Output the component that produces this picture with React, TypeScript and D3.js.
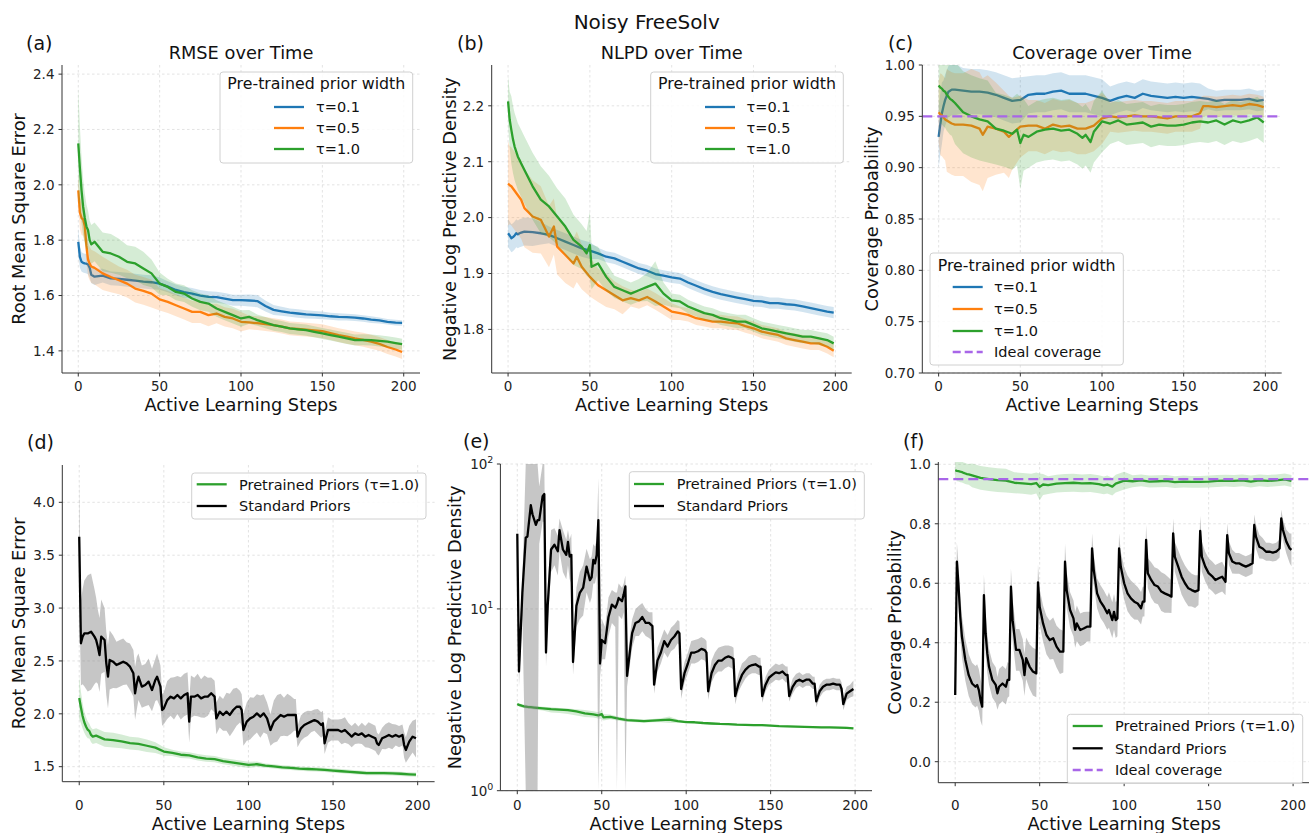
import React from "react";
import * as d3 from "d3";

// [step, mean, spread]
const RMSE_T01 = [[0,1.794,0.05],[1,1.74,0.04],[2,1.722,0.035],[3,1.718,0.035],[4,1.716,0.035],[5,1.715,0.035],[6,1.712,0.035],[7,1.70,0.035],[8,1.675,0.03],[10,1.668,0.03],[15,1.672,0.025],[20,1.662,0.025],[25,1.66,0.025],[30,1.657,0.025],[35,1.654,0.025],[40,1.65,0.025],[45,1.648,0.025],[50,1.643,0.022],[55,1.632,0.02],[60,1.62,0.02],[65,1.612,0.02],[70,1.607,0.02],[75,1.60,0.02],[80,1.595,0.02],[85,1.594,0.02],[90,1.589,0.02],[95,1.583,0.02],[100,1.583,0.02],[105,1.582,0.022],[110,1.58,0.022],[115,1.562,0.02],[120,1.548,0.018],[125,1.543,0.016],[130,1.538,0.015],[135,1.535,0.015],[140,1.532,0.015],[145,1.53,0.014],[150,1.528,0.014],[155,1.525,0.013],[160,1.523,0.013],[165,1.522,0.012],[170,1.52,0.012],[175,1.517,0.012],[180,1.513,0.012],[185,1.51,0.011],[190,1.505,0.01],[195,1.502,0.01],[199,1.501,0.01]];
const RMSE_T05 = [[0,1.98,0.06],[1,1.90,0.06],[2,1.88,0.06],[3,1.875,0.06],[4,1.85,0.06],[5,1.78,0.06],[6,1.73,0.06],[7,1.715,0.06],[8,1.705,0.06],[10,1.70,0.06],[15,1.68,0.06],[20,1.667,0.055],[25,1.655,0.05],[30,1.643,0.05],[35,1.625,0.05],[40,1.617,0.05],[45,1.607,0.05],[50,1.586,0.04],[55,1.577,0.04],[60,1.565,0.04],[65,1.553,0.04],[70,1.541,0.04],[75,1.541,0.04],[80,1.529,0.04],[85,1.535,0.035],[90,1.523,0.035],[95,1.517,0.035],[100,1.505,0.035],[105,1.503,0.025],[110,1.5,0.025],[115,1.497,0.025],[120,1.493,0.025],[125,1.488,0.025],[130,1.481,0.025],[135,1.479,0.025],[140,1.477,0.025],[145,1.474,0.025],[150,1.471,0.025],[155,1.464,0.025],[160,1.457,0.025],[165,1.451,0.025],[170,1.445,0.025],[175,1.44,0.025],[180,1.433,0.025],[185,1.425,0.025],[190,1.414,0.025],[195,1.405,0.025],[199,1.396,0.025]];
const RMSE_T10 = [[0,2.15,0.2],[1,2.06,0.15],[2,1.98,0.12],[3,1.92,0.1],[4,1.88,0.09],[5,1.85,0.08],[6,1.836,0.07],[7,1.80,0.07],[8,1.785,0.07],[10,1.794,0.07],[15,1.758,0.07],[20,1.752,0.07],[25,1.74,0.065],[30,1.722,0.06],[35,1.716,0.06],[40,1.698,0.06],[45,1.68,0.05],[50,1.643,0.04],[55,1.631,0.03],[60,1.613,0.03],[65,1.607,0.03],[70,1.589,0.03],[75,1.577,0.03],[80,1.571,0.03],[85,1.553,0.03],[90,1.541,0.03],[95,1.529,0.03],[100,1.517,0.03],[105,1.523,0.025],[110,1.511,0.02],[115,1.502,0.02],[120,1.493,0.02],[125,1.488,0.02],[130,1.481,0.02],[135,1.478,0.02],[140,1.475,0.02],[145,1.469,0.02],[150,1.463,0.02],[155,1.457,0.02],[160,1.451,0.02],[165,1.445,0.02],[170,1.439,0.02],[175,1.44,0.02],[180,1.439,0.02],[185,1.436,0.02],[190,1.433,0.02],[195,1.428,0.02],[199,1.424,0.02]];

const NLPD_T01 = [[0,1.972,0.025],[1,1.968,0.025],[2,1.963,0.025],[3,1.965,0.025],[4,1.968,0.025],[5,1.972,0.025],[6,1.970,0.025],[7,1.972,0.025],[8,1.973,0.025],[10,1.975,0.025],[15,1.974,0.025],[20,1.972,0.02],[25,1.969,0.015],[30,1.963,0.015],[35,1.957,0.015],[40,1.951,0.015],[45,1.945,0.015],[50,1.941,0.015],[55,1.936,0.01],[60,1.93,0.01],[65,1.927,0.01],[70,1.921,0.01],[75,1.915,0.01],[80,1.909,0.01],[85,1.905,0.01],[90,1.899,0.01],[95,1.896,0.01],[100,1.893,0.01],[105,1.891,0.01],[110,1.884,0.01],[115,1.878,0.01],[120,1.872,0.01],[125,1.867,0.01],[130,1.863,0.01],[135,1.86,0.01],[140,1.857,0.01],[145,1.854,0.01],[150,1.851,0.01],[155,1.85,0.01],[160,1.847,0.01],[165,1.847,0.01],[170,1.845,0.01],[175,1.844,0.01],[180,1.841,0.01],[185,1.838,0.01],[190,1.835,0.01],[195,1.832,0.01],[199,1.83,0.01]];
const NLPD_T05 = [[0,2.061,0.075],[1,2.058,0.07],[2,2.056,0.07],[3,2.052,0.07],[4,2.048,0.07],[5,2.044,0.07],[6,2.04,0.07],[7,2.036,0.07],[8,2.032,0.07],[10,2.017,0.07],[15,2.002,0.065],[20,1.996,0.06],[25,1.966,0.055],[28,1.984,0.05],[30,1.948,0.05],[35,1.933,0.05],[40,1.918,0.045],[42,1.93,0.045],[45,1.912,0.04],[50,1.894,0.035],[55,1.879,0.03],[60,1.87,0.03],[65,1.861,0.025],[70,1.852,0.025],[75,1.856,0.015],[80,1.852,0.015],[85,1.858,0.015],[90,1.85,0.015],[95,1.841,0.015],[100,1.832,0.015],[105,1.829,0.012],[110,1.826,0.012],[115,1.82,0.012],[120,1.817,0.012],[125,1.814,0.012],[130,1.814,0.012],[135,1.812,0.012],[140,1.811,0.012],[145,1.806,0.012],[150,1.802,0.012],[155,1.796,0.012],[160,1.793,0.012],[165,1.79,0.012],[170,1.784,0.012],[175,1.781,0.012],[180,1.778,0.012],[185,1.775,0.012],[190,1.775,0.012],[195,1.769,0.012],[199,1.762,0.012]];
const NLPD_T10 = [[0,2.208,0.045],[1,2.175,0.05],[2,2.157,0.06],[3,2.14,0.06],[4,2.127,0.06],[5,2.118,0.06],[6,2.109,0.06],[7,2.103,0.06],[8,2.097,0.06],[10,2.085,0.06],[15,2.056,0.06],[20,2.032,0.06],[25,2.02,0.055],[30,2.002,0.05],[35,1.984,0.05],[40,1.96,0.045],[45,1.948,0.04],[48,1.936,0.04],[50,1.951,0.06],[51,1.912,0.04],[55,1.918,0.03],[60,1.894,0.025],[65,1.876,0.02],[70,1.87,0.02],[75,1.864,0.02],[80,1.87,0.02],[85,1.876,0.025],[90,1.882,0.04],[95,1.864,0.02],[100,1.852,0.012],[105,1.85,0.012],[110,1.841,0.012],[115,1.835,0.012],[120,1.829,0.012],[125,1.826,0.012],[130,1.82,0.012],[135,1.817,0.012],[140,1.814,0.012],[145,1.814,0.012],[150,1.808,0.012],[155,1.802,0.012],[160,1.799,0.012],[165,1.796,0.012],[170,1.793,0.012],[175,1.79,0.012],[180,1.787,0.012],[185,1.787,0.012],[190,1.784,0.012],[195,1.781,0.012],[199,1.775,0.012]];

const COV_T01 = [[0,0.930,0.03],[1,0.942,0.03],[2,0.953,0.03],[3,0.96,0.025],[4,0.966,0.025],[5,0.97,0.025],[6,0.974,0.025],[7,0.975,0.025],[8,0.976,0.025],[10,0.976,0.025],[15,0.975,0.022],[20,0.974,0.022],[25,0.974,0.022],[30,0.973,0.022],[35,0.971,0.022],[40,0.968,0.022],[45,0.965,0.022],[50,0.966,0.022],[55,0.971,0.018],[60,0.972,0.018],[65,0.972,0.018],[70,0.974,0.018],[75,0.975,0.018],[80,0.972,0.018],[85,0.972,0.018],[90,0.972,0.018],[95,0.970,0.018],[100,0.968,0.018],[105,0.965,0.014],[110,0.968,0.014],[115,0.97,0.014],[120,0.968,0.014],[125,0.972,0.014],[130,0.97,0.014],[135,0.969,0.014],[140,0.968,0.014],[145,0.969,0.014],[150,0.968,0.014],[155,0.969,0.014],[160,0.968,0.014],[165,0.967,0.01],[170,0.965,0.01],[175,0.966,0.01],[180,0.966,0.01],[185,0.966,0.01],[190,0.967,0.01],[195,0.965,0.01],[199,0.966,0.01]];
const COV_T05 = [[0,0.954,0.03],[1,0.952,0.04],[2,0.951,0.04],[3,0.949,0.04],[4,0.947,0.04],[5,0.946,0.05],[6,0.945,0.05],[7,0.944,0.05],[8,0.943,0.05],[10,0.942,0.05],[15,0.942,0.05],[20,0.941,0.055],[25,0.938,0.055],[27,0.932,0.055],[30,0.940,0.05],[35,0.938,0.045],[40,0.935,0.04],[43,0.930,0.04],[45,0.933,0.035],[50,0.94,0.03],[55,0.941,0.025],[60,0.941,0.025],[65,0.938,0.025],[70,0.942,0.025],[75,0.94,0.025],[80,0.941,0.025],[85,0.938,0.025],[90,0.938,0.025],[95,0.941,0.025],[100,0.948,0.025],[105,0.95,0.015],[110,0.949,0.015],[115,0.95,0.015],[120,0.951,0.015],[125,0.95,0.015],[130,0.95,0.015],[135,0.949,0.015],[140,0.948,0.015],[145,0.95,0.015],[150,0.95,0.015],[155,0.95,0.015],[160,0.953,0.015],[162,0.96,0.01],[165,0.96,0.01],[170,0.959,0.01],[175,0.96,0.01],[180,0.961,0.01],[185,0.96,0.01],[190,0.962,0.01],[195,0.961,0.01],[199,0.959,0.01]];
const COV_T10 = [[0,0.98,0.025],[1,0.978,0.035],[2,0.977,0.035],[3,0.975,0.035],[4,0.974,0.035],[5,0.971,0.035],[6,0.969,0.035],[7,0.967,0.035],[8,0.966,0.035],[10,0.963,0.04],[15,0.954,0.04],[20,0.95,0.04],[25,0.947,0.04],[30,0.945,0.04],[35,0.938,0.035],[40,0.936,0.035],[45,0.933,0.035],[48,0.937,0.035],[50,0.924,0.045],[52,0.932,0.035],[55,0.930,0.03],[60,0.935,0.03],[65,0.937,0.03],[70,0.938,0.03],[75,0.936,0.03],[80,0.937,0.03],[85,0.933,0.03],[88,0.929,0.03],[90,0.932,0.03],[93,0.925,0.03],[95,0.935,0.03],[100,0.945,0.03],[105,0.943,0.02],[110,0.946,0.02],[115,0.942,0.02],[120,0.943,0.02],[125,0.944,0.02],[130,0.94,0.02],[135,0.942,0.02],[140,0.941,0.02],[145,0.941,0.02],[150,0.942,0.02],[155,0.944,0.02],[160,0.945,0.02],[165,0.944,0.02],[170,0.946,0.02],[175,0.942,0.02],[180,0.946,0.02],[185,0.944,0.02],[190,0.946,0.02],[195,0.949,0.02],[199,0.944,0.02]];

// standard priors, [step, mean, spread]
const STD_RMSE = [[0,3.675,0.55],[1,2.667,0.4],[2,2.73,0.45],[3,2.76,0.5],[5,2.76,0.55],[7,2.777,0.55],[9,2.73,0.45],[10,2.698,0.4],[11,2.635,0.35],[12,2.556,0.35],[13,2.73,0.35],[15,2.698,0.3],[16,2.477,0.3],[17,2.351,0.3],[18,2.509,0.28],[20,2.493,0.25],[22,2.462,0.22],[24,2.477,0.22],[26,2.493,0.22],[28,2.477,0.2],[30,2.446,0.22],[32,2.383,0.22],[33,2.194,0.25],[34,2.288,0.25],[35,2.351,0.22],[37,2.257,0.2],[39,2.272,0.2],[41,2.304,0.22],[43,2.225,0.2],[45,2.32,0.2],[46,2.351,0.22],[48,2.257,0.2],[49,2.036,0.15],[50,2.052,0.15],[52,2.13,0.18],[54,2.162,0.18],[56,2.146,0.2],[58,2.178,0.18],[60,2.146,0.2],[62,2.178,0.2],[64,2.194,0.2],[65,1.926,0.2],[66,2.162,0.2],[68,2.162,0.18],[70,2.178,0.2],[72,2.146,0.18],[74,2.162,0.2],[76,2.162,0.18],[78,2.194,0.15],[80,2.162,0.15],[81,1.957,0.15],[83,2.02,0.15],[85,1.989,0.15],[87,2.02,0.18],[89,1.989,0.2],[91,2.036,0.2],[93,2.067,0.18],[95,2.067,0.15],[96,2.036,0.15],[97,1.847,0.15],[99,1.926,0.18],[101,1.957,0.2],[103,1.973,0.18],[105,2.004,0.18],[107,1.973,0.2],[109,2.004,0.18],[111,1.957,0.15],[113,1.847,0.15],[115,1.926,0.2],[117,1.957,0.22],[119,1.989,0.2],[121,1.973,0.18],[123,1.989,0.2],[125,1.989,0.18],[127,1.989,0.15],[128,1.989,0.15],[129,1.784,0.1],[131,1.863,0.12],[133,1.894,0.12],[135,1.91,0.12],[137,1.926,0.1],[139,1.941,0.1],[141,1.926,0.12],[143,1.894,0.12],[144,1.91,0.12],[145,1.721,0.1],[147,1.847,0.12],[149,1.847,0.1],[151,1.847,0.1],[153,1.847,0.1],[155,1.831,0.12],[157,1.847,0.12],[159,1.815,0.1],[160,1.8,0.1],[161,1.784,0.1],[163,1.815,0.1],[165,1.8,0.08],[167,1.815,0.1],[169,1.784,0.1],[171,1.8,0.12],[173,1.784,0.12],[175,1.768,0.12],[176,1.721,0.1],[177,1.705,0.1],[179,1.768,0.1],[181,1.784,0.12],[183,1.8,0.12],[185,1.784,0.12],[187,1.8,0.1],[189,1.784,0.1],[191,1.8,0.1],[192,1.705,0.12],[193,1.658,0.12],[195,1.737,0.15],[197,1.784,0.15],[199,1.768,0.18]];
// [step, mean, low, high]
const STD_NLPD = [[0,33,25,48],[1,3.7,2.9,5],[3,12.9,9,16],[5,31,1,100],[6,31.6,1,100],[8,52,1,100],[9,45,1,100],[11,38,1,100],[12,41,1,100],[13,41,28,70],[15,60,40,100],[16,62,40,100],[17,5.0,4.0,6.5],[18,10.5,8,14],[20,25.7,18,35],[22,27.7,20,36],[24,25,17,32],[25,35,25,42],[27,25.7,18,35],[29,23.6,16,30],[30,29,20,35],[31,23,16,30],[32,23.6,15,33],[33,4.3,3.5,5.5],[35,10.5,7.5,14],[37,12.9,8.5,18],[39,14,9,20],[41,19.6,13,26],[43,15.8,11,22],[44,16.5,12,23],[45,21.8,15,28],[46,20.6,15,27],[47,23.6,17,30],[48,41,1,80],[49,4.2,3.4,6],[50,6.1,4.5,8.5],[52,5.8,4.5,7.5],[54,8.8,6.5,12],[56,10.7,8,13.5],[58,10.2,7.5,13],[59,10.8,1,13],[60,11.9,9,15],[62,11.3,8.5,14],[63,12.6,9.5,15],[64,14.3,1,17],[65,3.45,2.9,4.2],[67,5.5,4.4,7],[68,6.8,5.4,8.5],[70,8.0,6.5,10],[72,8.2,6.5,10.5],[74,8.8,7,11],[76,8.0,6.5,10],[78,8.0,6.3,9.5],[80,7.6,6,9.5],[81,3.0,2.6,3.5],[83,4.4,3.7,5.4],[85,5.0,4.2,6.2],[87,6.0,5,7.2],[89,5.5,4.6,6.6],[91,6.1,5.1,7.4],[93,6.45,5.3,7.8],[95,7.0,5.8,8.4],[96,6.8,5.6,8.2],[97,2.8,2.4,3.3],[99,3.6,3.1,4.3],[101,4.2,3.6,5.0],[103,5.0,4.2,6.0],[105,5.0,4.2,6.1],[107,5.1,4.3,6.2],[109,5.3,4.5,6.4],[111,5.2,4.4,6.2],[112,5.0,4.2,6.0],[113,2.7,2.35,3.1],[115,3.6,3.1,4.4],[117,4.1,3.5,5.0],[119,4.4,3.7,5.4],[121,4.4,3.7,5.5],[123,4.6,3.9,5.6],[125,4.7,4.0,5.6],[127,4.6,3.9,5.5],[128,4.5,3.8,5.4],[129,2.5,2.2,2.9],[131,3.05,2.7,3.6],[133,3.5,3.0,4.2],[135,3.8,3.3,4.4],[137,4.0,3.5,4.7],[139,4.1,3.6,4.8],[141,4.15,3.6,4.8],[143,4.0,3.5,4.6],[144,4.0,3.5,4.6],[145,2.5,2.25,2.8],[147,3.0,2.7,3.4],[149,3.35,3.0,3.8],[151,3.5,3.1,4.0],[153,3.65,3.25,4.2],[155,3.6,3.2,4.1],[157,3.7,3.3,4.2],[159,3.5,3.1,4.0],[160,3.5,3.1,4.0],[161,2.5,2.3,2.75],[163,2.9,2.6,3.3],[165,3.15,2.85,3.55],[167,3.25,2.95,3.65],[169,3.15,2.85,3.5],[171,3.25,2.95,3.6],[173,3.25,2.95,3.6],[175,3.05,2.8,3.4],[176,3.05,2.8,3.4],[177,2.3,2.1,2.5],[179,2.7,2.45,3.0],[181,2.9,2.65,3.2],[183,3.0,2.75,3.3],[185,3.0,2.75,3.3],[187,3.05,2.8,3.35],[189,3.0,2.75,3.3],[191,3.0,2.75,3.3],[192,2.8,2.6,3.1],[193,2.2,2.0,2.5],[195,2.6,2.35,2.9],[197,2.7,2.45,3.0],[199,2.8,2.5,3.2]];
const STD_COV = [[0,0.224,0.035],[1,0.673,0.065],[2,0.589,0.07],[3,0.488,0.07],[4,0.42,0.07],[6,0.342,0.07],[8,0.291,0.07],[10,0.263,0.07],[12,0.252,0.07],[13,0.258,0.07],[14,0.241,0.07],[15,0.207,0.07],[16,0.185,0.065],[17,0.56,0.07],[18,0.432,0.07],[19,0.364,0.065],[20,0.32,0.06],[22,0.275,0.06],[24,0.258,0.06],[25,0.23,0.055],[26,0.252,0.06],[28,0.263,0.06],[30,0.252,0.06],[31,0.275,0.06],[32,0.275,0.055],[33,0.589,0.06],[34,0.476,0.07],[36,0.376,0.07],[38,0.376,0.07],[40,0.342,0.07],[41,0.291,0.07],[42,0.348,0.07],[44,0.32,0.075],[46,0.303,0.08],[48,0.297,0.08],[49,0.603,0.06],[50,0.521,0.06],[52,0.465,0.06],[54,0.426,0.065],[56,0.409,0.065],[58,0.415,0.07],[60,0.387,0.07],[62,0.37,0.075],[64,0.37,0.07],[65,0.673,0.06],[66,0.577,0.06],[68,0.51,0.06],[70,0.482,0.06],[71,0.443,0.06],[72,0.465,0.06],[74,0.443,0.055],[76,0.448,0.055],[78,0.454,0.05],[80,0.454,0.05],[81,0.717,0.05],[82,0.645,0.05],[84,0.566,0.05],[86,0.538,0.055],[88,0.521,0.055],[90,0.499,0.055],[91,0.51,0.06],[93,0.476,0.06],[94,0.504,0.06],[95,0.476,0.06],[96,0.482,0.06],[97,0.717,0.05],[98,0.656,0.05],[100,0.6,0.055],[102,0.566,0.06],[104,0.549,0.06],[106,0.538,0.06],[108,0.532,0.055],[110,0.516,0.055],[111,0.538,0.05],[112,0.538,0.05],[113,0.746,0.05],[114,0.634,0.05],[116,0.611,0.06],[118,0.594,0.06],[120,0.589,0.06],[122,0.572,0.065],[124,0.566,0.065],[126,0.561,0.06],[128,0.555,0.055],[129,0.768,0.05],[130,0.689,0.05],[132,0.656,0.055],[134,0.622,0.06],[136,0.6,0.06],[138,0.583,0.06],[140,0.577,0.055],[142,0.572,0.055],[144,0.577,0.05],[145,0.776,0.05],[146,0.689,0.05],[148,0.656,0.05],[150,0.634,0.05],[152,0.624,0.05],[154,0.611,0.05],[156,0.617,0.05],[158,0.622,0.05],[160,0.605,0.045],[161,0.762,0.04],[162,0.701,0.04],[164,0.673,0.04],[166,0.667,0.035],[168,0.667,0.035],[170,0.661,0.035],[172,0.656,0.035],[174,0.661,0.035],[176,0.667,0.035],[177,0.796,0.035],[178,0.757,0.04],[180,0.723,0.04],[182,0.717,0.035],[184,0.706,0.03],[186,0.706,0.03],[188,0.703,0.03],[190,0.706,0.03],[192,0.717,0.03],[193,0.818,0.03],[194,0.779,0.035],[196,0.74,0.04],[198,0.717,0.05],[199,0.712,0.055]];

const X_TICKS = [0, 50, 100, 150, 200];
const IDEAL_COVERAGE = 0.95;

const FONT = "DejaVu Sans, sans-serif";
const BLUE = "#1f77b4";
const ORANGE = "#ff7f0e";
const GREEN = "#2ca02c";
const PURPLE = "#a866e8";

// matplotlib symlog (linthresh=2, base 10)
const symlog = (v: number) => {
  const lt = 2, ls = 1 / (1 - 1 / 10);
  const a = Math.abs(v);
  return a <= lt ? v * ls : Math.sign(v) * lt * (ls + Math.log10(a / lt));
};

const tauSeries = (b: any, o: any, g: any) => [
  { data: b, color: BLUE, fill: BLUE, op: 0.2, label: "τ=0.1" },
  { data: o, color: ORANGE, fill: ORANGE, op: 0.2, label: "τ=0.5" },
  { data: g, color: GREEN, fill: GREEN, op: 0.2, label: "τ=1.0" },
];
const cmpSeries = (g: any, k: any) => [
  { data: g, color: GREEN, fill: GREEN, op: 0.2, label: "Pretrained Priors (τ=1.0)" },
  { data: k, color: "#000", fill: "#808080", op: 0.45, label: "Standard Priors" },
];

const PANELS = [
  { id: "a", left: 62, right: 420, top: 65, bottom: 373, yDomain: [1.32, 2.433], yTicks: [1.4, 1.6, 1.8, 2.0, 2.2, 2.4], dec: 1,
    xTickY: 390.5, xLabelY: 410.5, yLabelX: 24.5, yLabel: "Root Mean Square Error", title: "RMSE over Time", tag: "(a)", tagX: 26, tagY: 49.5,
    series: tauSeries(RMSE_T01, RMSE_T05, RMSE_T10),
    legend: { x: 220, y: 72, w: 192.7, h: 91, title: "Pre-trained prior width", titleY: 89, rows: [107, 128, 149], lx: 274, tx: 316 } },
  { id: "b", left: 491.7, right: 851.7, top: 65, bottom: 373, yDomain: [1.722, 2.273], yTicks: [1.8, 1.9, 2.0, 2.1, 2.2], dec: 1,
    xTickY: 390.5, xLabelY: 410.5, yLabelX: 456, yLabel: "Negative Log Predictive Density", title: "NLPD over Time", tag: "(b)", tagX: 457, tagY: 49.5,
    series: tauSeries(NLPD_T01, NLPD_T05, NLPD_T10),
    legend: { x: 650.7, y: 72, w: 192.6, h: 91, title: "Pre-trained prior width", titleY: 89, rows: [107, 128, 149], lx: 705, tx: 746.5 } },
  { id: "c", left: 922.3, right: 1281.7, top: 65, bottom: 373, yDomain: [0.7, 1.0], yTicks: [0.7, 0.75, 0.8, 0.85, 0.9, 0.95, 1.0], dec: 2,
    xTickY: 390.5, xLabelY: 410.5, yLabelX: 878, yLabel: "Coverage Probability", title: "Coverage over Time", tag: "(c)", tagX: 888, tagY: 49.5,
    series: tauSeries(COV_T01, COV_T05, COV_T10), ideal: true,
    legend: { x: 930, y: 253, w: 193.3, h: 112, title: "Pre-trained prior width", titleY: 271, rows: [287, 309, 331, 352], lx: 952.7, tx: 994 } },
  { id: "d", left: 62.3, right: 434.6, top: 465, bottom: 781.7, yDomain: [1.358, 4.353], yTicks: [1.5, 2.0, 2.5, 3.0, 3.5, 4.0], dec: 1,
    xTickY: 810, xLabelY: 830, yLabelX: 24.5, yLabel: "Root Mean Square Error", tag: "(d)", tagX: 27, tagY: 449,
    series: cmpSeries(RMSE_T10, STD_RMSE),
    legend: { x: 191.7, y: 473, w: 234.3, h: 46, rows: [484.3, 506], lx: 196.7, tx: 239 } },
  { id: "e", left: 500.4, right: 872, top: 464, bottom: 790.7, yDomain: [1, 100], yTicks: [1, 10, 100], log: true,
    xTickY: 810, xLabelY: 830, yLabelX: 461, yLabel: "Negative Log Predictive Density", tag: "(e)", tagX: 463, tagY: 447.7,
    series: cmpSeries(NLPD_T10, STD_NLPD),
    legend: { x: 629.3, y: 471.7, w: 235, h: 47.3, rows: [484, 506], lx: 634, tx: 676.7 } },
  { id: "f", left: 938.3, right: 1310, top: 462, bottom: 782.7, yDomain: [-0.0706, 1.0077], yTicks: [0, 0.2, 0.4, 0.6, 0.8, 1.0], dec: 1,
    xTickY: 810, xLabelY: 830, yLabelX: 901, yLabel: "Coverage Probability", tag: "(f)", tagX: 903, tagY: 447.7,
    series: cmpSeries(COV_T10, STD_COV), ideal: true,
    legend: { x: 1067.3, y: 714.3, w: 235.4, h: 69, rows: [726, 748.3, 770], lx: 1072.7, tx: 1115 } },
];

function Panel({ p }: { p: any }) {
  const x = d3.scaleLinear().domain([-10, 210]).range([p.left, p.right]);
  const tr = (v: number) => (p.log ? symlog(v) : v);
  const yLin = d3.scaleLinear().domain([tr(p.yDomain[0]), tr(p.yDomain[1])]).range([p.bottom, p.top]);
  const y = (v: number) => yLin(tr(v));
  const lo = (d: number[]) => (d.length === 4 ? d[2] : d[1] - d[2]);
  const hi = (d: number[]) => (d.length === 4 ? d[3] : d[1] + d[2]);
  const line = d3.line<number[]>().x((d) => x(d[0])).y((d) => y(d[1]));
  const area = d3.area<number[]>().x((d) => x(d[0])).y0((d) => y(lo(d))).y1((d) => y(hi(d)));
  const clip = `clip-${p.id}`;
  const lg = p.legend;
  const items = p.series.map((s: any) => ({ label: s.label, color: s.color, dash: null }));
  if (p.ideal) items.push({ label: "Ideal coverage", color: PURPLE, dash: "8,4" });
  const cx = (p.left + p.right) / 2;
  const cy = (p.top + p.bottom) / 2;

  return (
    <g>
      <defs>
        <clipPath id={clip}>
          <rect x={p.left} y={p.top} width={p.right - p.left} height={p.bottom - p.top} />
        </clipPath>
      </defs>
      {/* grid */}
      <g stroke="#dcdcdc" strokeWidth={0.8} strokeDasharray="2.5,2.5">
        {X_TICKS.map((t) => (
          <line key={"gx" + t} x1={x(t)} x2={x(t)} y1={p.top} y2={p.bottom} />
        ))}
        {p.yTicks.map((t: number) => (
          <line key={"gy" + t} x1={p.left} x2={p.right} y1={y(t)} y2={y(t)} />
        ))}
      </g>
      <g clipPath={`url(#${clip})`}>
        {p.series.map((s: any, i: number) => (
          <g key={i}>
            <path d={area(s.data) || ""} fill={s.fill} fillOpacity={s.op} stroke="none" />
            <path d={line(s.data) || ""} fill="none" stroke={s.color} strokeWidth={2.3} strokeLinejoin="round" />
          </g>
        ))}
        {p.ideal && (
          <line x1={p.left} x2={p.right} y1={y(IDEAL_COVERAGE)} y2={y(IDEAL_COVERAGE)} stroke={PURPLE} strokeWidth={2.3} strokeDasharray="10,5" />
        )}
      </g>
      {/* spines */}
      <g stroke="#333" strokeWidth={1}>
        <line x1={p.left} x2={p.left} y1={p.top} y2={p.bottom} />
        <line x1={p.left} x2={p.right} y1={p.bottom} y2={p.bottom} />
        {X_TICKS.map((t) => (
          <line key={"tx" + t} x1={x(t)} x2={x(t)} y1={p.bottom} y2={p.bottom + 3.5} />
        ))}
        {p.yTicks.map((t: number) => (
          <line key={"ty" + t} x1={p.left - 3.5} x2={p.left} y1={y(t)} y2={y(t)} />
        ))}
      </g>
      <g fontFamily={FONT} fontSize={13.5} fill="#222">
        {X_TICKS.map((t) => (
          <text key={"lx" + t} x={x(t)} y={p.xTickY} textAnchor="middle">{t}</text>
        ))}
        {p.yTicks.map((t: number) =>
          p.log ? (
            <text key={"ly" + t} x={p.left - 7} y={y(t) + 5} textAnchor="end">
              10<tspan dy={-6} fontSize={9.5}>{Math.round(Math.log10(t))}</tspan>
            </text>
          ) : (
            <text key={"ly" + t} x={p.left - 7.5} y={y(t) + 4.8} textAnchor="end">{t.toFixed(p.dec)}</text>
          )
        )}
      </g>
      <g fontFamily={FONT} fill="#111">
        <text x={cx} y={p.xLabelY} fontSize={17.8} textAnchor="middle">Active Learning Steps</text>
        <text transform={`translate(${p.yLabelX},${cy}) rotate(-90)`} fontSize={17.8} textAnchor="middle">{p.yLabel}</text>
        {p.title && <text x={cx} y={59.3} fontSize={17.8} textAnchor="middle">{p.title}</text>}
        <text x={p.tagX} y={p.tagY} fontSize={19}>{p.tag}</text>
      </g>
      {/* legend */}
      <g fontFamily={FONT}>
        <rect x={lg.x} y={lg.y} width={lg.w} height={lg.h} rx={3} fill="#fff" fillOpacity={0.85} stroke="#d0d0d0" strokeWidth={1} />
        {lg.title && (
          <text x={lg.x + lg.w / 2} y={lg.titleY} fontSize={15.8} textAnchor="middle" fill="#111">{lg.title}</text>
        )}
        {items.map((it: any, i: number) => (
          <g key={i}>
            <line x1={lg.lx} x2={lg.lx + 30} y1={lg.rows[i]} y2={lg.rows[i]} stroke={it.color} strokeWidth={2.3} strokeDasharray={it.dash || undefined} />
            <text x={lg.tx} y={lg.rows[i] + 5.2} fontSize={14.5} fill="#111">{it.label}</text>
          </g>
        ))}
      </g>
    </g>
  );
}

export default function App() {
  return (
    <svg width={1309} height={833} style={{ position: "absolute", left: 0, top: 0, background: "#fff" }}>
      <rect x={0} y={0} width={1309} height={833} fill="#fff" />
      <text x={646.7} y={29.3} fontFamily={FONT} fontSize={20} textAnchor="middle" fill="#111">Noisy FreeSolv</text>
      {PANELS.map((p) => (
        <Panel key={p.id} p={p} />
      ))}
    </svg>
  );
}
